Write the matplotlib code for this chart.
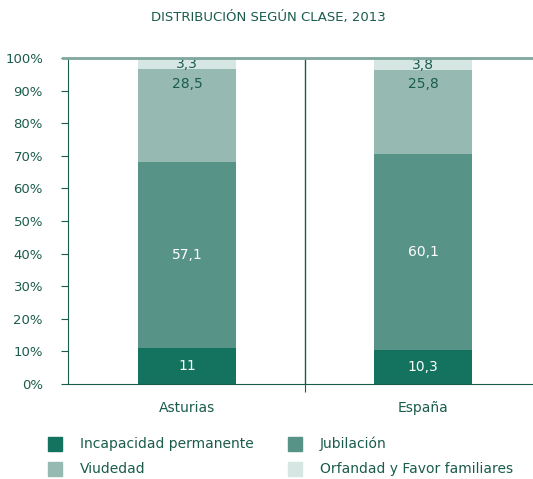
import numpy as np
import matplotlib
import matplotlib.pyplot as plt
from matplotlib.patches import Rectangle
from matplotlib.lines import Line2D

matplotlib.use("Agg")

categories = ["Asturias", "España"]
series = ["Incapacidad permanente", "Jubilación", "Viudedad", "Orfandad y Favor familiares"]
incapacidad = [11, 10.3]
jubilacion = [57.1, 60.1]
viudedad = [28.5, 25.8]
orfandad = [3.3, 3.8]
labels = [["11", "10,3"], ["57,1", "60,1"], ["28,5", "25,8"], ["3,3", "3,8"]]

colors = ["#13735f", "#579387", "#96bab2", "#d5e6e3"]
text_colors = ["white", "white", "#1a5c4c", "#1a5c4c"]
label_frac = [0.5, 0.5, 0.84, 0.45]
dark = "#1a5c4c"
top_col = "#7fa79d"

plt.rcParams["font.family"] = ["DejaVu Sans"]

W, H = 533, 479
fig = plt.figure(figsize=(W / 100, H / 100), dpi=100)
ax = fig.add_axes([68 / W, 1 - 384 / H, (533 - 68) / W, (384 - 58) / H])

x = np.arange(len(categories))
values = [incapacidad, jubilacion, viudedad, orfandad]
bottom = np.zeros(len(categories))
for vals, col, tcol, labs, fr in zip(values, colors, text_colors, labels, label_frac):
    ax.bar(x, vals, width=0.415, bottom=bottom, color=col, zorder=2)
    for xi, v, b, lab in zip(x, vals, bottom, labs):
        ax.text(xi, b + v * fr, lab, ha="center", va="center", color=tcol, fontsize=10, zorder=3)
    bottom = bottom + np.array(vals)

ax.set_xlim(-0.504, 1.466)
ax.set_ylim(0, 100)
ax.set_yticks(np.arange(0, 101, 10))
ax.set_yticklabels([f"{v}%" for v in range(0, 101, 10)], color=dark, fontsize=9.5)
ax.tick_params(axis="y", length=5, color=dark, pad=13)
ax.set_xticks([0.5])
ax.set_xticklabels([""])
ax.tick_params(axis="x", length=6, color=dark)
for xi, cat in zip(x, categories):
    ax.text(xi, -7.3, cat, ha="center", va="center", color=dark, fontsize=10, clip_on=False)

ax.axvline(0.5, color=dark, lw=1, zorder=1)
ax.spines["right"].set_visible(False)
ax.spines["top"].set_visible(False)
ax.spines["left"].set_color(dark)
ax.spines["bottom"].set_color(dark)
ax.add_line(Line2D([-5 / 465, 1], [1, 1], transform=ax.transAxes, color=top_col, lw=2,
                   clip_on=False, zorder=4))

fig.text(268 / W, 1 - 18 / H, "DISTRIBUCIÓN SEGÚN CLASE, 2013", ha="center", va="center",
         color=dark, fontsize=9.5)

# legend
leg_pos = [(48, 444), (288, 444), (48, 469), (288, 469)]
for (lx, ly), name, col in zip(leg_pos, series, colors):
    fig.patches.append(Rectangle((lx / W, 1 - (ly + 7) / H), 14 / W, 14 / H,
                                 transform=fig.transFigure, color=col, figure=fig))
    fig.text((lx + 32) / W, 1 - ly / H, name, ha="left", va="center", color=dark, fontsize=10)

fig.savefig("out.png", dpi=100)
